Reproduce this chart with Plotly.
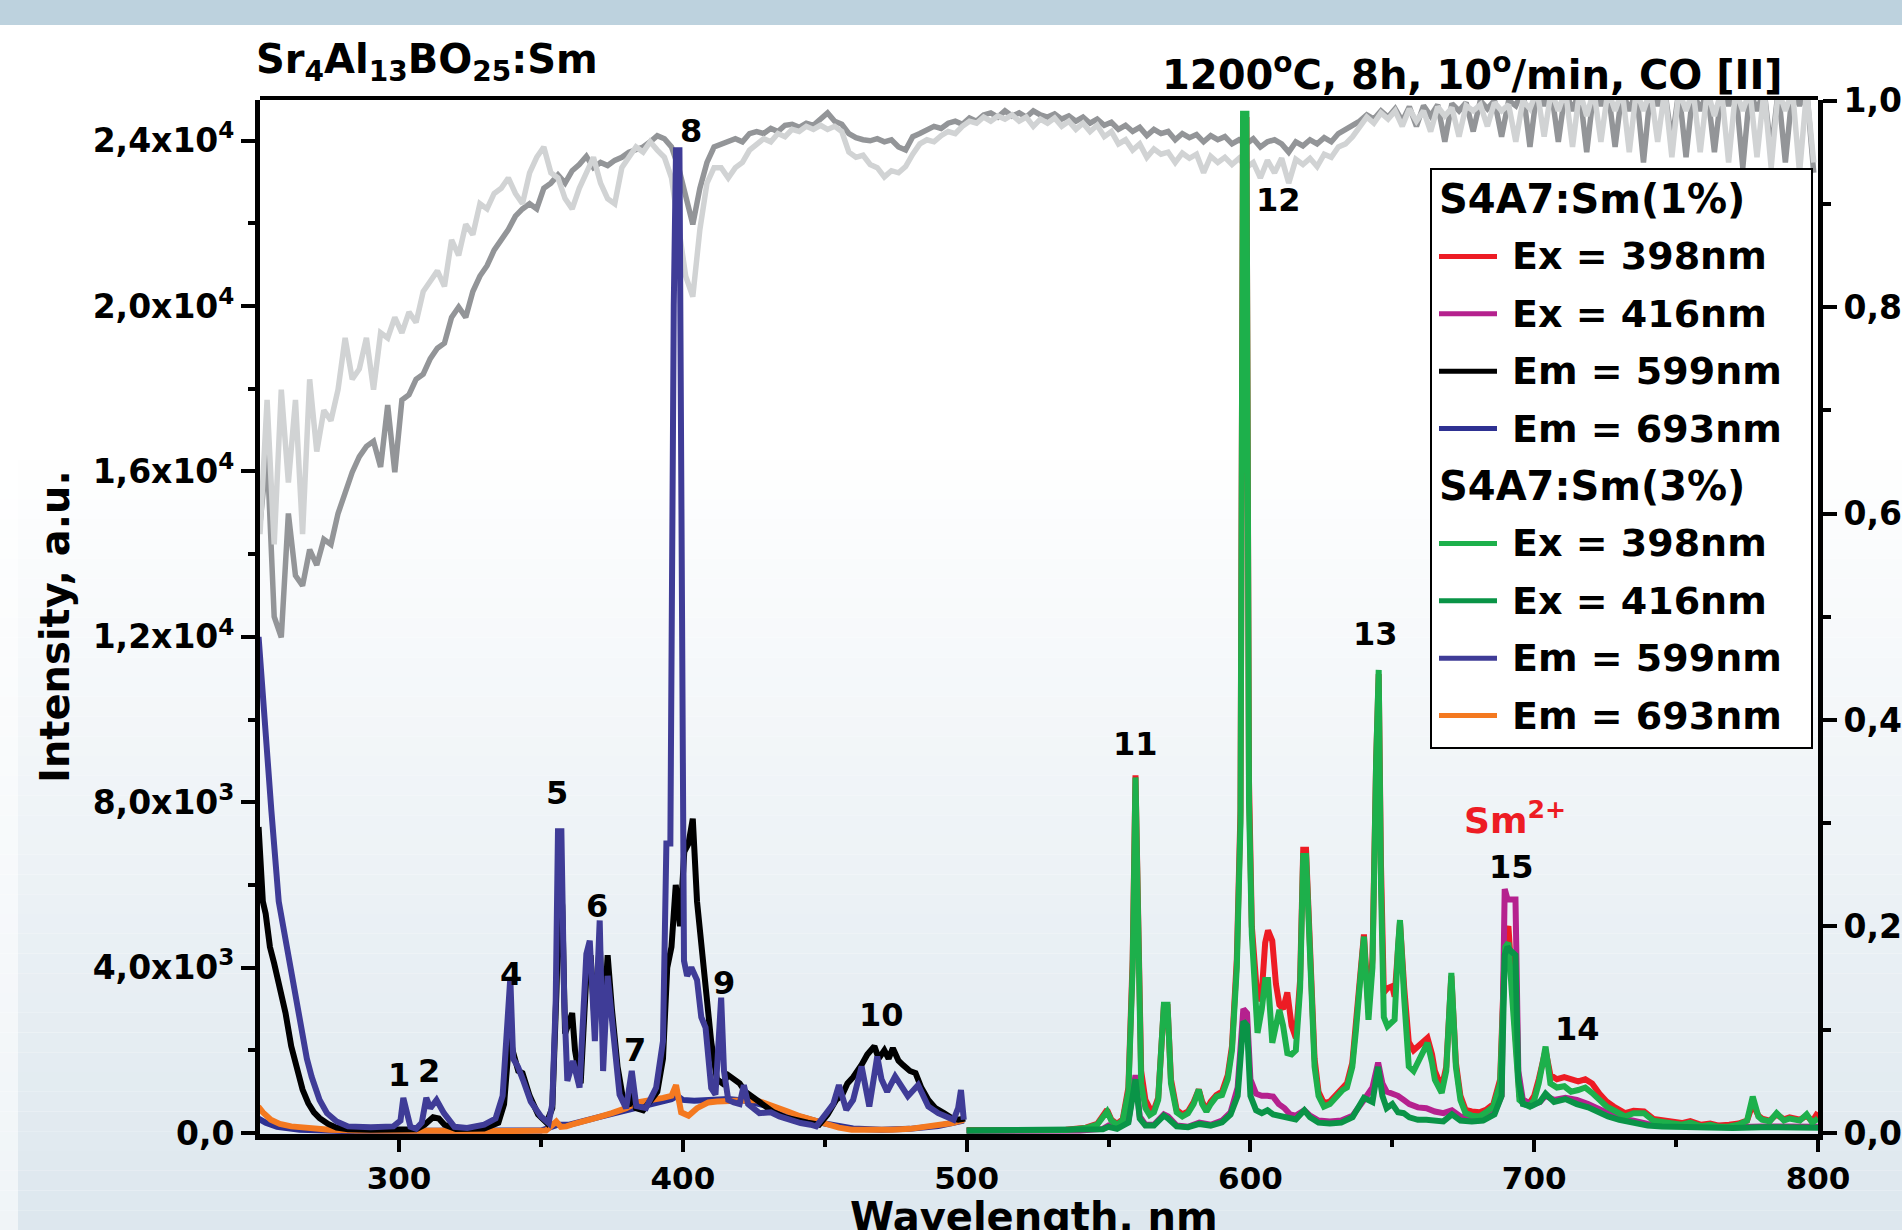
import plotly.graph_objects as go

FONT = "DejaVu Sans"

# ---------------- reflectance curves (right axis), 2.5 nm grid from 251 nm ----------------
REFL_LIGHT = [
    0.58, 0.71, 0.57, 0.72, 0.63, 0.71, 0.58, 0.73, 0.66, 0.70,
    0.69, 0.72, 0.77, 0.73, 0.74, 0.77, 0.72, 0.775, 0.77, 0.79,
    0.775, 0.795, 0.785, 0.815, 0.825, 0.835, 0.82, 0.865, 0.85, 0.88,
    0.87, 0.9, 0.895, 0.91, 0.915, 0.925, 0.91, 0.9, 0.93, 0.945,
    0.955, 0.93, 0.925, 0.905, 0.895, 0.915, 0.93, 0.945, 0.92, 0.905,
    0.9, 0.935, 0.945, 0.955, 0.95, 0.96, 0.952, 0.945, 0.925, 0.88,
    0.83, 0.81, 0.875, 0.92, 0.935, 0.935, 0.925, 0.935, 0.94, 0.952,
    0.958, 0.963, 0.96, 0.968, 0.965, 0.972, 0.97, 0.975, 0.972, 0.976,
    0.972, 0.975, 0.97, 0.95, 0.945, 0.947, 0.938, 0.935, 0.926, 0.932,
    0.93, 0.936, 0.948, 0.958, 0.962, 0.96, 0.966, 0.97, 0.968, 0.975,
    0.98, 0.978, 0.984, 0.98, 0.985, 0.982, 0.986, 0.98, 0.984, 0.975,
    0.982, 0.978, 0.983, 0.975, 0.98, 0.972, 0.978, 0.97, 0.976, 0.965,
    0.97, 0.958, 0.962, 0.952, 0.958, 0.945, 0.953, 0.948, 0.95, 0.94,
    0.949, 0.944, 0.948, 0.93, 0.946, 0.94, 0.945, 0.938, 0.944, 0.935,
    0.94, 0.925, 0.942, 0.93, 0.944, 0.92, 0.943, 0.938, 0.944, 0.936,
    0.948, 0.945, 0.955, 0.958, 0.965, 0.975, 0.984, 0.978, 0.988, 0.982,
    0.99, 0.975, 0.992, 0.98, 0.99, 0.97, 0.994, 0.985, 0.993, 0.965,
    0.995, 0.99, 0.996, 0.975, 0.998, 0.99, 0.996, 0.96, 1.0, 0.992,
    1.01, 0.965, 1.01, 0.99, 1.01, 0.955, 1.01, 0.985, 1.01, 0.96,
    1.01, 0.99, 1.01, 0.95, 1.01, 0.99, 1.01, 0.96, 1.01, 0.945,
    1.01, 0.99, 1.01, 0.95, 1.01, 0.985, 1.01, 0.94, 1.01, 0.99,
    1.01, 0.945, 1.01, 0.935, 1.01, 0.99, 1.01, 0.93, 1.01, 0.94,
]
REFL_DARK = [
    0.59, 0.66, 0.5, 0.48, 0.6, 0.54, 0.53, 0.565, 0.55, 0.575,
    0.57, 0.6, 0.62, 0.64, 0.655, 0.665, 0.67, 0.645, 0.705, 0.64,
    0.71, 0.715, 0.73, 0.735, 0.75, 0.76, 0.765, 0.79, 0.8, 0.79,
    0.815, 0.83, 0.84, 0.855, 0.865, 0.875, 0.888, 0.895, 0.9, 0.895,
    0.915, 0.92, 0.928, 0.92, 0.932, 0.938, 0.946, 0.935, 0.94, 0.937,
    0.942, 0.945, 0.95, 0.952, 0.955, 0.96, 0.966, 0.963, 0.955, 0.935,
    0.905, 0.88, 0.915, 0.94, 0.955, 0.958, 0.96, 0.963, 0.96, 0.968,
    0.97, 0.968, 0.973, 0.97, 0.976, 0.977, 0.974, 0.978, 0.976, 0.982,
    0.988, 0.98, 0.977, 0.968, 0.964, 0.962, 0.961, 0.963, 0.96, 0.962,
    0.955, 0.952, 0.965, 0.968, 0.972, 0.975, 0.973, 0.978, 0.98, 0.977,
    0.983, 0.98, 0.986, 0.988, 0.984, 0.99, 0.985, 0.988, 0.984, 0.99,
    0.986, 0.984, 0.987, 0.982, 0.985, 0.98, 0.984, 0.978, 0.982, 0.976,
    0.979, 0.972, 0.976, 0.97, 0.974, 0.966, 0.972, 0.968, 0.97, 0.962,
    0.968, 0.964, 0.967, 0.96, 0.966, 0.962, 0.965, 0.958, 0.962, 0.958,
    0.963, 0.955, 0.96, 0.962, 0.958, 0.95, 0.96, 0.956, 0.962, 0.958,
    0.964, 0.96, 0.968, 0.972, 0.975, 0.98, 0.986, 0.982, 0.99, 0.984,
    0.992, 0.98, 0.994, 0.975, 0.995, 0.985, 0.996, 0.96, 0.997, 0.99,
    0.998, 0.97, 1.0, 0.992, 1.0, 0.965, 1.0, 0.995, 1.01, 0.955,
    1.01, 0.995, 1.01, 0.96, 1.01, 0.99, 1.01, 0.95, 1.01, 0.995,
    1.01, 0.955, 1.01, 0.99, 1.01, 0.94, 1.01, 0.995, 1.01, 0.96,
    1.01, 0.945, 1.01, 0.99, 1.01, 0.95, 1.01, 0.995, 1.01, 0.935,
    1.01, 0.99, 1.01, 0.95, 1.01, 0.94, 1.01, 0.995, 1.01, 0.93,
]
REFL_WL = [251.0 + 2.5 * i for i in range(len(REFL_LIGHT))]

# ---------------- excitation spectra (left axis) ----------------
# S4A7:Sm(1%)  Em = 599 nm  (black)
EXC1_599_WL = [250.5, 251, 252, 253, 254.5, 256, 258, 260, 262, 264, 266, 268, 270, 272, 275, 278, 282, 290,
               300, 306, 309, 312, 314, 316, 320, 330, 335, 337, 339, 340, 342, 343.5, 346, 349, 352, 354,
               355.5, 356.5, 357.5, 358.5, 360, 361, 362, 364, 366, 367.5, 369, 370.7, 372, 373.5, 375, 377,
               379, 381, 382, 383.5, 386, 389, 391, 393, 394.5, 396, 397.5, 399, 400.5, 402, 403.5, 405,
               406.5, 408, 410, 412, 414, 416, 418, 420, 422, 425, 428, 432, 436, 440, 444, 448, 451, 454,
               456, 458, 460, 463, 465, 467.5, 469, 471, 472.5, 474, 476, 477.5, 480, 482, 484, 486.5, 489,
               492, 495, 497, 499.5]
EXC1_599_I = [7400, 6500, 5600, 5300, 4500, 4100, 3500, 2900, 2100, 1550, 1050, 720, 500, 360, 220, 130, 90, 80,
              90, 90, 200, 380, 350, 200, 100, 110, 250, 700, 2400, 2000, 1500, 1450, 900, 450, 250, 600,
              3500, 6300, 5500, 2400, 2700, 2900, 2000, 1200, 3800, 4300, 2600, 4600, 2400, 4300, 3000, 1600,
              800, 650, 1100, 600, 550, 800, 1000, 1800, 4000, 4500, 6000, 5000, 6800, 7000, 7600, 5600,
              4500, 3500, 2200, 1300, 1200, 1400, 1300, 1200, 1000, 850, 700, 500, 380, 300, 250, 200, 450, 800,
              900, 1200, 1350, 1650, 1900, 2100, 1800, 2000, 1800, 2050, 1750, 1650, 1500, 1450, 1100, 800, 600,
              480, 350, 320, 350]

# S4A7:Sm(3%)  Em = 599 nm  (indigo)
EXC3_599_WL = [250.5, 251.5, 253, 255, 257.6, 260.2, 263, 265.5, 267.5, 269.2, 272, 274.6, 278, 282, 290, 298,
               300.5, 301.5, 302.5, 304, 306, 308, 309.6, 311, 313.2, 315.8, 319.5, 324, 330, 334, 336.5, 338,
               339.2, 340.2, 341.9, 343.7, 346.4, 350, 352.7, 354, 355.2, 356, 357.2, 358.2, 359.3, 361.3,
               363.6, 366, 367.2, 369, 370.7, 371.9, 373.5, 375.3, 377.7, 380, 382, 383.6, 387, 390.6, 393,
               394.2, 395.6, 396.8, 397.6, 398.8, 399.6, 400.4, 401.5, 403, 405, 406.5, 408, 410, 411.5, 412.7,
               413.5, 414.5, 416, 418, 420, 421.5, 423, 427, 431, 434, 438, 441.5, 445, 447, 450.6, 453, 455,
               457.6, 460, 463, 465.7, 468.5, 470, 472, 474.8, 477, 479.3, 482.9, 486.5, 490, 493, 495.4, 497,
               498, 499]
EXC3_599_I = [12000, 11000, 9600, 7800, 5600, 4600, 3450, 2400, 1800, 1360, 800, 480, 280, 160, 140, 160,
              300, 850, 500, 150, 100, 250, 850, 600, 800, 480, 150, 120, 200, 350, 900, 2400,
              3750, 1800, 1600, 1280, 760, 400, 240, 700, 3200, 7300, 7300, 3200, 1260, 1740,
              1100, 4330, 4650, 2220, 5140, 1500, 3800, 2550, 930, 600, 1500, 650, 600, 1100, 2220,
              7000, 7000, 20000, 23770, 23770, 10000, 4170, 3800, 4000, 3700, 2800, 2550, 1090, 930, 2500,
              3275, 1500, 800, 740, 700, 1160, 700, 480, 500, 400, 300, 240, 200, 160, 480, 700, 1160,
              560, 800, 1610, 640, 1850, 1300, 1000, 1370, 1100, 890, 1160, 640, 480, 400, 320, 600,
              1040, 320]

# S4A7:Sm(1%)  Em = 693 nm  (blue)
EXC1_693_WL = [250.4, 253, 257, 265, 280, 300, 350, 356, 360, 370, 380, 390, 396, 398, 400, 404, 410, 416,
               422, 430, 440, 450, 460, 470, 480, 490, 499]
EXC1_693_I = [350, 250, 150, 80, 50, 50, 60, 200, 200, 380, 560, 720, 820, 900, 800, 780, 800, 820,
              780, 650, 420, 230, 110, 80, 100, 170, 300]

# S4A7:Sm(3%)  Em = 693 nm  (orange)
EXC3_693_WL = [250.4, 252, 254.8, 258, 262, 268, 275.5, 285, 300, 320, 340, 351.8, 355.4, 357, 359, 362, 366,
               370, 375, 380, 384, 388, 393, 396, 397.6, 399.4, 402, 405, 409, 412, 416.4, 420, 423, 425.4,
               429, 432.6, 437, 441.5, 446, 450.6, 455, 459.5, 466, 473.8, 480, 484, 488, 492, 495, 497, 499]
EXC3_693_I = [640, 500, 320, 220, 160, 110, 80, 60, 50, 50, 50, 60, 280, 150, 160, 230, 320,
              380, 480, 600, 740, 780, 850, 900, 1160, 500, 420, 600, 740, 760, 780, 790, 800, 800,
              720, 640, 520, 400, 300, 200, 130, 80, 70, 80, 100, 130, 160, 200, 240, 280, 320]

# ---------------- emission spectra (left axis) ----------------
EMI_WL = [500, 520, 535, 542, 546, 549.5, 551, 553, 555, 557, 558.5, 559.5, 560.5, 561.5, 563, 564.5, 566,
          567.5, 569.5, 570.8, 572, 574, 576, 578, 580, 581.8, 583, 584.5, 586, 588, 590, 592, 593.5, 595.2,
          596.5, 597.4, 598.6, 599.5, 600.5, 602.5, 604, 605.2, 606.2, 607.7, 609, 610.2, 611.5, 613, 614.5,
          616, 617.5, 618.6, 619.6, 620.9, 622.6, 624, 625.9, 628, 629.3, 631, 632.5, 634, 635.9, 637.2,
          638.4, 640, 641.6, 643, 644.3, 645.2, 646, 647, 648.3, 650, 650.8, 652, 652.7, 654.2, 655.8, 657.5,
          659.3, 661, 662.4, 664, 665, 667.4, 669, 670.8, 672.4, 674, 675.8, 678, 680.7, 683, 685.6, 688,
          689.8, 690.9, 692, 693.2, 694.8, 696.5, 698.3, 700, 701.6, 703, 704, 705.7, 708, 710.6, 713, 715.5,
          718, 720.4, 723, 725.5, 728, 732, 735, 738.7, 742, 745, 748.8, 752, 755, 758.8, 762, 765, 768.7,
          772, 775, 777, 779, 780.3, 783, 785.4, 788, 790, 793.6, 796, 798, 800]
# S4A7:Sm(3%)  Ex = 398 nm  (green)
EMI3_398 = [60, 60, 70, 120, 200, 520, 300, 200, 300, 1000, 4000, 8600, 4000, 1200, 600, 435, 500,
            800, 3100, 3100, 1200, 500, 400, 480, 700, 1050, 700, 520, 700, 880, 920, 1300, 2000, 4000,
            7500, 24650, 24650, 8000, 4800, 2420, 3000, 3700, 3700, 2180, 2600, 2975, 2600, 1930, 1900,
            2000, 3500, 6700, 6700, 4030, 1600, 900, 640, 700, 800, 900, 1040, 1100, 1600, 2500,
            3620, 4750, 2740, 4000, 9000, 11200, 6000, 2800, 2580, 2700, 2740, 4500, 5150, 3240, 1610, 1500,
            1770, 2000, 2180, 1700, 1290, 970, 1500, 3870, 1600, 800, 480, 420, 400, 500, 640, 1200,
            4500, 4600, 3500, 2420, 800, 700, 640, 800, 1200, 1700, 2090, 1200, 1100, 1130, 1000, 1040,
            1100, 970, 800, 640, 550, 400, 480, 480, 300, 280, 240, 200, 250, 160, 200, 150, 160,
            200, 300, 880, 400, 320, 280, 480, 300, 350, 300, 450, 250, 350]
# S4A7:Sm(1%)  Ex = 398 nm  (red)
EMI1_398 = [70, 70, 80, 130, 220, 560, 320, 220, 330, 1100, 4200, 8650, 4300, 1500, 800, 600, 560,
            850, 3050, 3050, 1300, 560, 450, 520, 750, 1050, 760, 560, 760, 920, 1000, 1400, 2100, 4200,
            7800, 24500, 24500, 8500, 5000, 3200, 3400, 4600, 4900, 4650, 3600, 3100, 3000, 3400, 2600,
            2300, 3700, 6850, 6850, 4200, 1800, 1000, 720, 760, 850, 950, 1100, 1200, 1700, 2600,
            3700, 4800, 3000, 4200, 9000, 11100, 6500, 3400, 3500, 3550, 3300, 4600, 5100, 3500, 2200, 2000,
            2100, 2200, 2300, 1900, 1500, 1100, 1600, 3800, 1700, 900, 560, 520, 500, 560, 700, 1300,
            4800, 5000, 4000, 2600, 900, 780, 720, 900, 1300, 1800, 2000, 1400, 1300, 1350, 1300, 1250,
            1300, 1200, 950, 760, 640, 480, 540, 520, 340, 320, 280, 240, 290, 200, 230, 180, 200,
            230, 300, 700, 420, 350, 300, 450, 330, 380, 320, 420, 280, 500]

EMI_LOW_WL = [500, 540, 548, 550, 553, 557, 559.5, 561, 563, 566, 569.5, 571, 574, 578, 582, 586, 590, 593,
              595.5, 597.5, 598.8, 600, 602, 604, 606, 608, 610, 612, 614, 616, 619, 621, 624, 628, 632, 636,
              640, 643, 645, 646.5, 648, 650, 652, 654, 656, 659, 662, 665, 668, 671, 674, 678, 682, 686,
              688.5, 689.6, 690.6, 691.8, 693.4, 694.4, 696, 699, 702, 704, 707, 711, 715, 719, 722, 726, 730,
              735, 740, 745, 750, 760, 770, 780, 790, 800]
# S4A7:Sm(1%)  Ex = 416 nm  (magenta)
EMI1_416 = [50, 60, 100, 180, 120, 300, 1400, 400, 200, 200, 450, 400, 180, 150, 250, 200, 300, 500,
            1100, 3000, 2900, 1300, 950, 900, 900, 880, 700, 600, 450, 420, 550, 420, 300, 280, 300, 420,
            800, 1100, 1700, 1200, 1000, 950, 900, 800, 700, 620, 600, 520, 480, 550, 400, 380, 400, 500,
            900, 5900, 5650, 5650, 5650, 1500, 800, 700, 750, 900, 800, 850, 800, 700, 600, 450, 350,
            300, 220, 180, 170, 150, 140, 160, 140, 150]
# S4A7:Sm(3%)  Ex = 416 nm  (dark green)
EMI3_416 = [60, 60, 90, 150, 100, 250, 1300, 350, 180, 180, 420, 350, 160, 140, 220, 180, 260, 450,
            900, 2700, 2600, 900, 550, 480, 550, 450, 420, 400, 350, 330, 550, 380, 250, 230, 250, 380,
            850, 750, 1600, 900, 600, 700, 500, 480, 380, 320, 320, 300, 280, 450, 300, 280, 300, 450,
            900, 4300, 4500, 4400, 4300, 1300, 700, 650, 750, 950, 750, 820, 700, 620, 520, 400, 320,
            250, 180, 160, 150, 130, 120, 140, 120, 130]

# ---------------- axes / labels ----------------
X_TICKS = [300, 400, 500, 600, 700, 800]
X_MINOR = [350, 450, 550, 650, 750]
I_TICKS = [0, 4000, 8000, 12000, 16000, 20000, 24000]
I_TICK_TEXT = ["0,0", "4,0x10<sup>3</sup>", "8,0x10<sup>3</sup>", "1,2x10<sup>4</sup>",
               "1,6x10<sup>4</sup>", "2,0x10<sup>4</sup>", "2,4x10<sup>4</sup>"]
I_MINOR = [2000, 6000, 10000, 14000, 18000, 22000]
R_TICKS = [0, 0.2, 0.4, 0.6, 0.8, 1.0]
R_TICK_TEXT = ["0,0", "0,2", "0,4", "0,6", "0,8", "1,0"]
R_MINOR = [0.1, 0.3, 0.5, 0.7, 0.9]

PEAK_LABELS = [("1", 300.0, 1410), ("2", 310.7, 1500), ("4", 339.3, 3845), ("5", 355.6, 8216),
               ("6", 369.7, 5490), ("7", 383.3, 2000), ("8", 403.0, 24234), ("9", 414.5, 3640),
               ("10", 470.1, 2846), ("11", 559.5, 9418), ("12", 609.9, 22565), ("13", 644.0, 12060),
               ("14", 715.4, 2525), ("15", 691.9, 6426)]

LEGEND_ROWS = [("S4A7:Sm(1%)", None), ("Ex = 398nm", "#ed1c24"), ("Ex = 416nm", "#b5218e"),
               ("Em = 599nm", "#000000"), ("Em = 693nm", "#2e3192"), ("S4A7:Sm(3%)", None),
               ("Ex = 398nm", "#1db04b"), ("Ex = 416nm", "#0a9447"), ("Em = 599nm", "#3f3c97"),
               ("Em = 693nm", "#f47920")]

# ---------------- figure ----------------
W, H = 1902, 1230
ML, MR, MT, MB = 260, 84, 100, 96
PW, PH = W - ML - MR, H - MT - MB


def px(xp):
    return (xp - ML) / PW


def py(yp):
    return (H - MB - yp) / PH


fig = go.Figure()

GW = 5.5
fig.add_trace(go.Scatter(x=REFL_WL, y=REFL_DARK, yaxis="y", mode="lines",
                         line=dict(color="#939598", width=GW)))
fig.add_trace(go.Scatter(x=REFL_WL, y=REFL_LIGHT, yaxis="y", mode="lines",
                         line=dict(color="#d1d3d4", width=GW)))

LW = 6
fig.add_trace(go.Scatter(x=EXC1_693_WL, y=EXC1_693_I, yaxis="y2", mode="lines", line=dict(color="#2e3192", width=LW)))
fig.add_trace(go.Scatter(x=EXC3_693_WL, y=EXC3_693_I, yaxis="y2", mode="lines", line=dict(color="#f47920", width=LW)))
fig.add_trace(go.Scatter(x=EXC1_599_WL, y=EXC1_599_I, yaxis="y2", mode="lines", line=dict(color="#000000", width=LW)))
fig.add_trace(go.Scatter(x=EXC3_599_WL, y=EXC3_599_I, yaxis="y2", mode="lines", line=dict(color="#3f3c97", width=LW)))
fig.add_trace(go.Scatter(x=EMI_WL, y=EMI1_398, yaxis="y2", mode="lines", line=dict(color="#ed1c24", width=LW)))
fig.add_trace(go.Scatter(x=EMI_LOW_WL, y=EMI1_416, yaxis="y2", mode="lines", line=dict(color="#b5218e", width=LW)))
fig.add_trace(go.Scatter(x=EMI_WL, y=EMI3_398, yaxis="y2", mode="lines", line=dict(color="#1db04b", width=LW)))
fig.add_trace(go.Scatter(x=EMI_LOW_WL, y=EMI3_416, yaxis="y2", mode="lines", line=dict(color="#0a9447", width=LW)))

shapes = []
# background: top band + vertical fade
x_left, x_right = px(0), px(W)
shapes.append(dict(type="rect", xref="paper", yref="paper", x0=x_left, x1=x_right, y0=py(25), y1=py(0),
                   fillcolor="#bdd2de", line=dict(width=0), layer="below"))
n_strips = 40
y_start, y_end = 440, H
for k in range(n_strips):
    ya = y_start + (y_end - y_start) * k / n_strips
    yb = y_start + (y_end - y_start) * (k + 1) / n_strips
    t = (k + 0.5) / n_strips
    r = round(255 - 34 * t)
    g = round(255 - 24 * t)
    b = round(255 - 17 * t)
    shapes.append(dict(type="rect", xref="paper", yref="paper", x0=x_left, x1=x_right, y0=py(yb), y1=py(ya),
                       fillcolor=f"rgb({r},{g},{b})", line=dict(width=0), layer="below"))
shapes.append(dict(type="rect", xref="paper", yref="paper", x0=x_left, x1=px(18), y0=py(H), y1=py(440),
                   fillcolor="rgba(255,255,255,0.55)", line=dict(width=0), layer="below"))
# top frame line
shapes.append(dict(type="line", xref="paper", yref="paper", x0=0, x1=1, y0=1.002, y1=1.002,
                   line=dict(color="black", width=4)))
# legend box
shapes.append(dict(type="rect", xref="paper", yref="paper", x0=px(1431), x1=px(1812), y0=py(748), y1=py(169),
                   fillcolor="white", line=dict(color="black", width=2)))

annotations = []
row_y0, row_dy = 199, 57.4
for i, (label, color) in enumerate(LEGEND_ROWS):
    yc = row_y0 + i * row_dy
    if color is None:
        annotations.append(dict(x=px(1437), y=py(yc), xref="paper", yref="paper", xanchor="left", yanchor="middle",
                                text=label, showarrow=False,
                                font=dict(family=FONT, size=40, color="black", weight="bold")))
    else:
        shapes.append(dict(type="line", xref="paper", yref="paper", x0=px(1439), x1=px(1497), y0=py(yc), y1=py(yc),
                           line=dict(color=color, width=5)))
        annotations.append(dict(x=px(1510), y=py(yc), xref="paper", yref="paper", xanchor="left", yanchor="middle",
                                text=label, showarrow=False,
                                font=dict(family=FONT, size=38, color="black", weight="bold")))

for text, xv, yv in PEAK_LABELS:
    annotations.append(dict(x=xv, y=yv, xref="x", yref="y2", text=text, showarrow=False,
                            xanchor="center", yanchor="middle",
                            font=dict(family=FONT, size=32, color="black", weight="bold")))
annotations.append(dict(x=693.4, y=7620, xref="x", yref="y2", text="Sm<sup>2+</sup>", showarrow=False,
                        xanchor="center", yanchor="middle",
                        font=dict(family=FONT, size=36, color="#ed1c24", weight="bold")))

annotations.append(dict(x=px(254), y=py(62), xref="paper", yref="paper", xanchor="left", yanchor="middle",
                        text="Sr<sub>4</sub>Al<sub>13</sub>BO<sub>25</sub>:Sm", showarrow=False,
                        font=dict(family=FONT, size=40, color="black", weight="bold")))
annotations.append(dict(x=px(1785), y=py(72), xref="paper", yref="paper", xanchor="right", yanchor="middle",
                        text="1200<sup>o</sup>C, 8h, 10<sup>o</sup>/min, CO [II]", showarrow=False,
                        font=dict(family=FONT, size=40, color="black", weight="bold")))
annotations.append(dict(x=px(55), y=py(627), xref="paper", yref="paper", xanchor="center", yanchor="middle",
                        text="Intensity, a.u.", textangle=-90, showarrow=False,
                        font=dict(family=FONT, size=40, color="black", weight="bold")))
annotations.append(dict(x=px(1034), y=py(1217), xref="paper", yref="paper", xanchor="center", yanchor="middle",
                        text="Wavelength, nm", showarrow=False,
                        font=dict(family=FONT, size=40, color="black", weight="bold")))

tick_font = dict(family=FONT, size=33, color="black", weight="bold")
fig.update_layout(
    width=W, height=H, autosize=False,
    margin=dict(l=ML, r=MR, t=MT, b=MB, pad=0),
    paper_bgcolor="white", plot_bgcolor="rgba(0,0,0,0)",
    showlegend=False,
    xaxis=dict(range=[251, 800], tickvals=X_TICKS, ticktext=[str(v) for v in X_TICKS], automargin=False,
               ticks="outside", ticklen=12, tickwidth=4, tickcolor="black",
               showline=True, linewidth=6, linecolor="black", showgrid=False, zeroline=False,
               tickfont=dict(family=FONT, size=31, color="black", weight="bold"),
               minor=dict(tickvals=X_MINOR, ticks="outside", ticklen=7, tickwidth=4, tickcolor="black")),
    yaxis=dict(range=[-0.001, 1.0005], side="right", anchor="x", tickvals=R_TICKS, ticktext=R_TICK_TEXT,
               automargin=False,
               ticks="outside", ticklen=14, tickwidth=4, tickcolor="black",
               showline=True, linewidth=5, linecolor="black", showgrid=False, zeroline=False,
               tickfont=tick_font,
               minor=dict(tickvals=R_MINOR, ticks="outside", ticklen=8, tickwidth=4, tickcolor="black")),
    yaxis2=dict(range=[-24, 24984], side="left", overlaying="y", anchor="x", tickvals=I_TICKS,
                ticktext=I_TICK_TEXT, automargin=False,
                ticks="outside", ticklen=14, tickwidth=4, tickcolor="black",
                showline=True, linewidth=5, linecolor="black", showgrid=False, zeroline=False,
                tickfont=tick_font,
                minor=dict(tickvals=I_MINOR, ticks="outside", ticklen=7, tickwidth=4, tickcolor="black")),
    shapes=shapes,
    annotations=annotations,
)

fig.write_html("out.html", config={"displayModeBar": False},
               post_script="document.body.style.margin='0';document.body.style.overflow='hidden';")
